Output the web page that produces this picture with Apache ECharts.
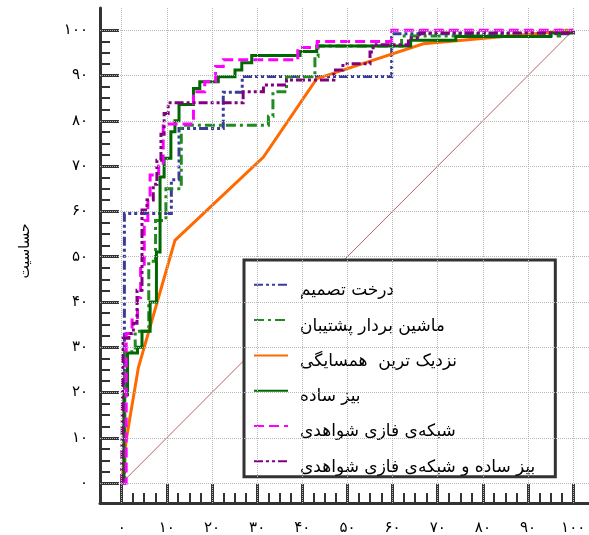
<!DOCTYPE html>
<html><head><meta charset="utf-8">
<script src="https://cdn.jsdelivr.net/npm/echarts@6/dist/echarts.min.js"></script>
<style>html,body{margin:0;padding:0;background:#fff}#c{width:589px;height:535px}</style>
</head><body><div id="c"></div>
<script>
// ---- data ----
const seriesNames = ['درخت تصمیم', 'ماشین بردار پشتیبان', 'نزدیک ترین  همسایگی', 'بیز ساده', 'شبکه‌ی فازی شواهدی', 'بیز ساده و شبکه‌ی فازی شواهدی'];
const yAxisName = 'حساسیت';
const tickValues = [0, 10, 20, 30, 40, 50, 60, 70, 80, 90, 100];
const tickLabels = ['۰', '۱۰', '۲۰', '۳۰', '۴۰', '۵۰', '۶۰', '۷۰', '۸۰', '۹۰', '۱۰۰'];
const minorTickValues = [0, 2.5, 5, 7.5, 10, 12.5, 15, 17.5, 20, 22.5, 25, 27.5, 30, 32.5, 35, 37.5, 40, 42.5, 45, 47.5, 50, 52.5, 55, 57.5, 60, 62.5, 65, 67.5, 70, 72.5, 75, 77.5, 80, 82.5, 85, 87.5, 90, 92.5, 95, 97.5, 100];
const diagonal = [[0, 0], [100, 100]];
const decisionTree = [[0,0],[0.6,0],[0.6,59.5],[11,59.5],[11,67],[12.7,67],[12.7,78.3],[22.5,78.3],[22.5,86.3],[26.7,86.3],[26.7,89.8],[59.8,89.8],[59.8,99.2],[99.6,99.2],[100,100]];
const svm = [[0,0],[0.7,0],[0.7,29],[3,29],[3,33.5],[6,33.5],[6,49],[7.5,49],[7.5,58],[9.8,58],[9.8,65],[13.2,65],[13.2,79],[32.5,79],[32.5,81],[33.5,81],[33.5,86.4],[36.5,86.4],[36.5,89.7],[42.8,89.7],[42.8,94.2],[43.5,94.2],[43.5,96.5],[62,96.5],[62,98.7],[97,98.7],[97,100],[100,100]];
const knn = [[0,0],[1,9.5],[3.7,25.5],[11.8,53.6],[31.4,72],[43.2,89.3],[66.8,97],[100,100]];
const naiveBayes = [[0,0],[0.5,0],[0.5,19.5],[1.3,19.5],[1.3,28.7],[3.5,28.7],[3.5,30],[4.5,30],[4.5,33.5],[6.3,33.5],[6.3,40],[7.7,40],[7.7,51],[8.5,51],[8.5,67.6],[9.4,67.6],[9.4,71.7],[10.9,71.7],[10.9,77.6],[11.8,77.6],[11.8,80],[12.7,80],[12.7,83.6],[15.9,83.6],[15.9,87.1],[17.3,87.1],[17.3,88.6],[21.4,88.6],[21.4,89.7],[25.1,89.7],[25.1,91.2],[26.6,91.2],[26.6,92.8],[28.8,92.8],[28.8,94.4],[39.5,94.4],[39.5,95.3],[43.2,95.3],[43.2,96.5],[64,96.5],[64,97.8],[74,97.8],[74,98.6],[95,98.6],[95,99.4],[100,99.4],[100,100]];
const fuzzyNet = [[0,0],[1,0],[1,33],[2.3,33],[2.3,36],[3.5,36],[3.5,41],[4.2,41],[4.2,48],[5,48],[5,58],[5.8,58],[5.8,62.5],[6.3,62.5],[6.3,68],[8.2,68],[8.2,70],[9.2,70],[9.2,79.3],[15.9,79.3],[15.9,86.4],[18.4,86.4],[18.4,88.6],[20.8,88.6],[20.8,92],[22.5,92],[22.5,93.5],[39,93.5],[39,96.2],[43.3,96.2],[43.3,97.5],[59.8,97.5],[59.8,100],[100,100]];
const nbFuzzy = [[0,0],[0.3,0],[0.3,32],[1.6,32],[1.6,33],[2.6,33],[2.6,35.3],[3.4,35.3],[3.4,42.6],[4.5,42.6],[4.5,60.3],[5.6,60.3],[5.6,62.5],[7,62.5],[7,66],[7.8,66],[7.8,71.3],[8.7,71.3],[8.7,77],[9.4,77],[9.4,81.6],[10.3,81.6],[10.3,84],[26.9,84],[26.9,86.4],[31.4,86.4],[31.4,87.9],[36.5,87.9],[36.5,89],[47,89],[47,91.2],[49,91.2],[49,92.6],[55,92.6],[55,95.2],[55.7,95.2],[55.7,96.8],[63.5,96.8],[63.5,98.3],[66,98.3],[66,99.4],[100,99.4],[100,100]];

// ---- chart ----
const xMin = -4.8, xMax = 103.5, yMin = -4.4, yMax = 104.9;
const FONT = 'DejaVu Sans';
const AX = '#333333';
const fmt = v => tickLabels[tickValues.indexOf(v)];

function valueAxis(min, max, major, extra) {
  if (major) {
    return Object.assign({
      type: 'value', min: min, max: max,
      axisLine: { show: true, onZero: false, lineStyle: { color: AX, width: 3 } },
      axisTick: { show: true, inside: true, length: 19, customValues: tickValues, lineStyle: { color: AX, width: 3 } },
      splitLine: { show: false }, minorTick: { show: false }, minorSplitLine: { show: false }
    }, extra);
  }
  return Object.assign({
    type: 'value', min: min, max: max,
    axisLine: { show: false, onZero: false },
    axisTick: { show: true, inside: true, length: 10, customValues: minorTickValues, lineStyle: { color: AX, width: 2 } },
    axisLabel: { show: false },
    splitLine: { show: false }
  }, extra);
}

const gridLines = tickValues.map(v => ({ xAxis: v })).concat(tickValues.map(v => ({ yAxis: v })));

function lineSeries(name, data, color, type, width, z) {
  return {
    name: name, type: 'line', data: data, showSymbol: false, symbol: 'none', z: z,
    lineStyle: { color: color, width: width, type: type, cap: 'butt', join: 'miter' },
    itemStyle: { color: color },
    emphasis: { disabled: true }, silent: true
  };
}

const chart = echarts.init(document.getElementById('c'), null, { renderer: 'canvas' });
chart.setOption({
  animation: false,
  backgroundColor: '#ffffff',
  grid: { left: 100, right: 0, top: 8, bottom: 32, containLabel: false, outerBoundsMode: 'none' },
  xAxis: [
    valueAxis(xMin, xMax, true, { position: 'bottom', axisLabel: { show: true, customValues: tickValues, formatter: fmt, color: '#000', fontSize: 15, fontFamily: FONT, margin: 18 } }),
    valueAxis(xMin, xMax, false, { position: 'bottom', offset: 0 })
  ],
  yAxis: [
    valueAxis(yMin, yMax, true, {
      position: 'left',
      axisLabel: { show: true, customValues: tickValues, formatter: fmt, color: '#000', fontSize: 15, fontFamily: FONT, margin: 12 },
      name: yAxisName, nameLocation: 'middle', nameGap: 68, nameRotate: 90,
      nameTextStyle: { fontSize: 14, fontFamily: FONT, color: '#000', padding: [0, 0, 0, 9] }
    }),
    valueAxis(yMin, yMax, false, { position: 'left', offset: 0 })
  ],
  legend: {
    orient: 'vertical', left: 244, top: 260,
    data: seriesNames, selectedMode: false,
    itemWidth: 34, itemHeight: 12, itemGap: 16,
    padding: [20, 20, 1, 9],
    itemStyle: { opacity: 0, borderWidth: 0 },
    backgroundColor: '#ffffff', borderColor: AX, borderWidth: 3, borderRadius: 0,
    formatter: function (name) { return '{t|' + name + '}'; },
    textStyle: {
      fontSize: 17, fontFamily: FONT, color: '#000',
      rich: { t: { fontSize: 17, fontFamily: FONT, color: '#000', padding: [12, 0, 0, 7] } }
    }
  },
  series: [
    {
      name: 'diag', type: 'line', data: diagonal, showSymbol: false, symbol: 'none', z: 1, silent: true,
      lineStyle: { color: '#b86464', width: 1 },
      markLine: {
        silent: true, symbol: ['none', 'none'], label: { show: false }, animation: false,
        lineStyle: { color: '#b8b8b8', width: 1, type: 'dotted' },
        emphasis: { disabled: true },
        data: gridLines
      }
    },
    lineSeries(seriesNames[0], decisionTree, '#3b3b98', [9, 3, 3, 3, 3, 3], 3, 3),
    lineSeries(seriesNames[1], svm, '#218a21', [10, 4, 3, 4], 3, 3),
    lineSeries(seriesNames[2], knn, '#ff6a00', 'solid', 3, 3),
    lineSeries(seriesNames[3], naiveBayes, '#006800', 'solid', 3, 3),
    lineSeries(seriesNames[4], fuzzyNet, '#ff00ff', [10, 5], 3, 3),
    lineSeries(seriesNames[5], nbFuzzy, '#800080', [9, 3, 3, 3, 3, 3], 3, 3)
  ]
});
</script>
</body></html>
